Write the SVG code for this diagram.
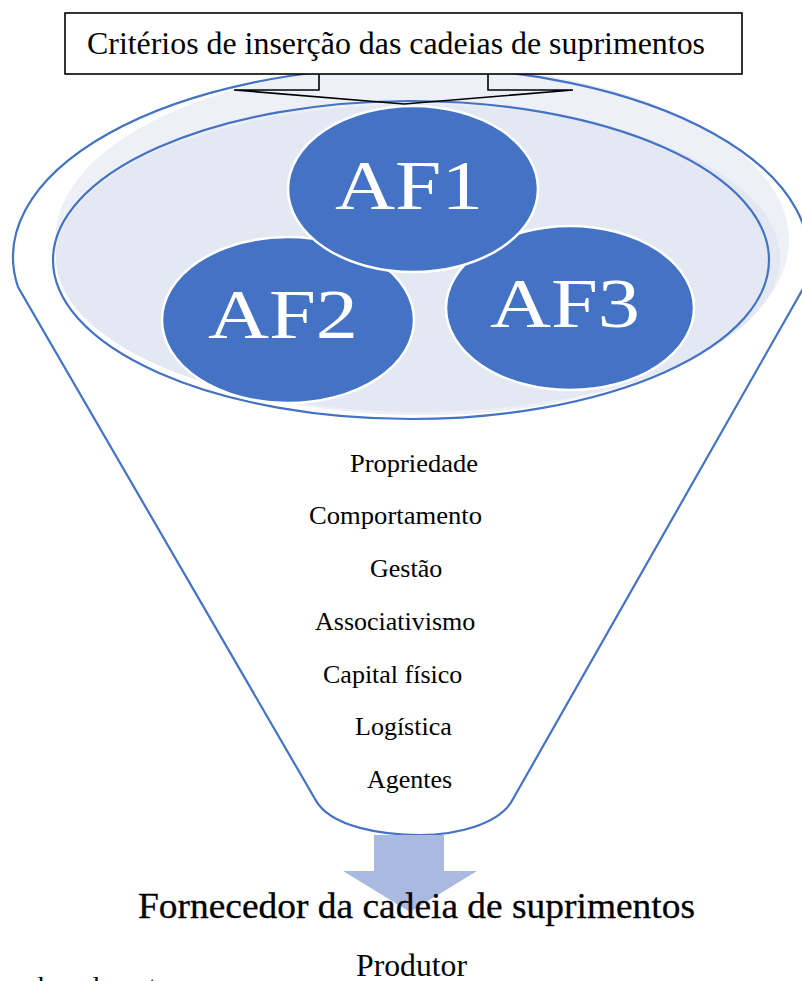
<svg xmlns="http://www.w3.org/2000/svg" width="802" height="981" viewBox="0 0 802 981">
  <style>
    text { font-family: 'Liberation Serif', Tinos, 'Times New Roman', Times, serif; }
    .serif { fill: #000; }
    .item { font-size: 26px; }
    .af { fill: #ffffff; font-size: 70px; }
    .blue-line { fill: none; stroke: #4472c4; stroke-width: 2.2; }
    .af-node { fill: #4472c4; stroke: #ffffff; stroke-width: 2.5; }
  </style>

  <rect width="802" height="981" fill="#ffffff"/>

  <!-- funnel: fills and outlines -->
  <g id="funnel">
    <ellipse cx="422" cy="240" rx="367" ry="175" fill="#eef0f7"/>
    <ellipse cx="418" cy="258" rx="362" ry="154" fill="#e3e8f3"/>
    <path class="blue-line" d="M 18 287 A 398 190 0 1 1 804 287 L 513 799 C 500 825 455 835 420 835 C 385 835 330 828 315 799 Z"/>
    <ellipse class="blue-line" cx="411" cy="260" rx="358" ry="159"/>
  </g>

  <!-- farm groups -->
  <g id="af2">
    <ellipse class="af-node" cx="288" cy="320" rx="126" ry="83"/>
    <text class="af" x="208" y="338" textLength="150" lengthAdjust="spacingAndGlyphs" font-family="Liberation Serif">AF2</text>
  </g>
  <g id="af3">
    <ellipse class="af-node" cx="570" cy="308" rx="124" ry="82"/>
    <text class="af" x="490" y="327" textLength="150" lengthAdjust="spacingAndGlyphs" font-family="Liberation Serif">AF3</text>
  </g>
  <g id="af1">
    <ellipse class="af-node" cx="413" cy="189" rx="125" ry="83"/>
    <text class="af" x="335" y="209" textLength="148" lengthAdjust="spacingAndGlyphs" font-family="Liberation Serif">AF1</text>
  </g>

  <!-- criteria callout -->
  <g id="criterios">
    <rect x="65" y="13" width="677" height="61" fill="#ffffff" stroke="#000" stroke-width="1.6"/>
    <text class="serif" x="87" y="54" font-size="31" textLength="618" lengthAdjust="spacingAndGlyphs" font-family="Liberation Serif">Critérios de inserção das cadeias de suprimentos</text>
  </g>

  <g id="connectors">
    <polyline points="319,74 319,90 234,90 404,104 573,90 488,90 488,74" fill="none" stroke="#000" stroke-width="1.6"/>
    <path d="M 374 835 L 444 835 L 444 871 L 477 871 L 410 912 L 343 871 L 374 871 Z" fill="#aab9df"/>
  </g>

  <!-- criteria list -->
  <g id="lista" font-family="Liberation Serif">
    <text class="serif item" x="350" y="472" textLength="128" lengthAdjust="spacingAndGlyphs">Propriedade</text>
    <text class="serif item" x="309" y="524" textLength="173" lengthAdjust="spacingAndGlyphs">Comportamento</text>
    <text class="serif item" x="370" y="577">Gestão</text>
    <text class="serif item" x="315" y="630">Associativismo</text>
    <text class="serif item" x="323" y="683">Capital físico</text>
    <text class="serif item" x="355" y="735">Logística</text>
    <text class="serif item" x="367" y="788">Agentes</text>
  </g>

  <g id="fornecedor">
    <text class="serif" x="138" y="918" font-size="36" textLength="557" lengthAdjust="spacingAndGlyphs" stroke="#000" stroke-width="0.3" font-family="Liberation Serif">Fornecedor da cadeia de suprimentos</text>
  </g>
  <g id="produtor">
    <text class="serif" x="356" y="976" font-size="31" textLength="111" lengthAdjust="spacingAndGlyphs" font-family="Liberation Serif">Produtor</text>
  </g>

  <text class="serif" x="8" y="993" font-size="24" textLength="172" lengthAdjust="spacingAndGlyphs" font-family="Liberation Serif">rado pelo autor</text>
</svg>
